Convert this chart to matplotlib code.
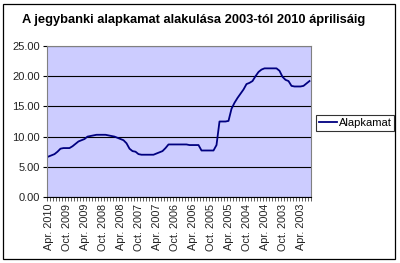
import matplotlib.pyplot as plt
from matplotlib.patches import Rectangle

# monthly base rate, newest first (Apr 2010 ... Jan 2003)
rate = [
    6.7, 6.9, 7.1, 7.5, 8.0, 8.1, 8.1, 8.1, 8.4, 8.8,
    9.2, 9.4, 9.6, 10.0, 10.1, 10.2, 10.3, 10.3, 10.3, 10.3,
    10.2, 10.1, 10.0, 9.8, 9.6, 9.4, 8.9, 8.0, 7.6, 7.5,
    7.1, 7.0, 7.0, 7.0, 7.0, 7.0, 7.2, 7.4, 7.6, 8.1,
    8.7, 8.7, 8.7, 8.7, 8.7, 8.7, 8.7, 8.6, 8.6, 8.6,
    8.6, 7.7, 7.7, 7.7, 7.7, 7.7, 8.6, 12.5, 12.5, 12.5,
    12.6, 14.6, 15.6, 16.4, 17.1, 17.8, 18.7, 18.9, 19.2, 20.0,
    20.7, 21.1, 21.3, 21.3, 21.3, 21.3, 21.3, 20.9, 19.9, 19.4,
    19.2, 18.4, 18.3, 18.3, 18.3, 18.4, 18.8, 19.2,
]

tick_labels = [
    "Apr. 2010", "Oct. 2009", "Apr. 2009", "Oct. 2008", "Apr. 2008",
    "Oct. 2007", "Apr. 2007", "Oct. 2006", "Apr. 2006", "Oct. 2005",
    "Apr. 2005", "Oct. 2004", "Apr. 2004", "Oct. 2003", "Apr. 2003",
]
y_ticks = [0, 5, 10, 15, 20, 25]

plt.rcParams["font.family"] = ["Liberation Sans", "DejaVu Sans"]

fig = plt.figure(figsize=(4.0, 2.63), dpi=100)
ax = fig.add_axes([0.1175, 0.251, 0.66, 0.574])

months = list(range(len(rate)))
ax.plot(months, rate, color="#000080", linewidth=1.3, label="Alapkamat")

ax.set_facecolor("#ccccff")
ax.set_xlim(-0.5, len(rate) - 0.5)
ax.set_ylim(0, 25)
ax.set_yticks(y_ticks)
ax.set_yticklabels([f"{v:.2f}" for v in y_ticks], fontsize=8, color="#222222")
ax.yaxis.grid(True, color="#000000", linewidth=0.8)
ax.set_axisbelow(True)

ax.set_xticks(range(0, len(rate), 6))
ax.set_xticklabels(tick_labels, rotation=90, fontsize=7.8, color="#222222")
ax.set_xticks([m - 0.5 for m in range(len(rate) + 1)], minor=True)
ax.tick_params(axis="x", which="major", length=0, pad=5)
ax.tick_params(axis="x", which="minor", length=3, width=0.6, direction="out", color="#444444")
ax.tick_params(axis="y", length=3, width=0.8, direction="out", pad=2)

for side in ["top", "right", "left"]:
    ax.spines[side].set_color("#808080")
ax.spines["bottom"].set_color("#000000")

fig.text(0.485, 0.925, "A jegybanki alapkamat alakulása 2003-tól 2010 áprilisáig",
         ha="center", va="center", fontsize=9.3, fontweight="bold")

leg = fig.legend(loc="center", bbox_to_anchor=(0.888, 0.532), fontsize=8,
                 frameon=True, fancybox=False, edgecolor="#000000",
                 handlelength=1.6, handletextpad=0.2, borderpad=0.25,
                 borderaxespad=0)
leg.get_frame().set_linewidth(0.8)

fig.patches.append(Rectangle((3 / 400, 4 / 263), 392 / 400, 255 / 263,
                             transform=fig.transFigure, fill=False,
                             edgecolor="#000000", linewidth=0.9))

fig.savefig("out.png", dpi=100)
